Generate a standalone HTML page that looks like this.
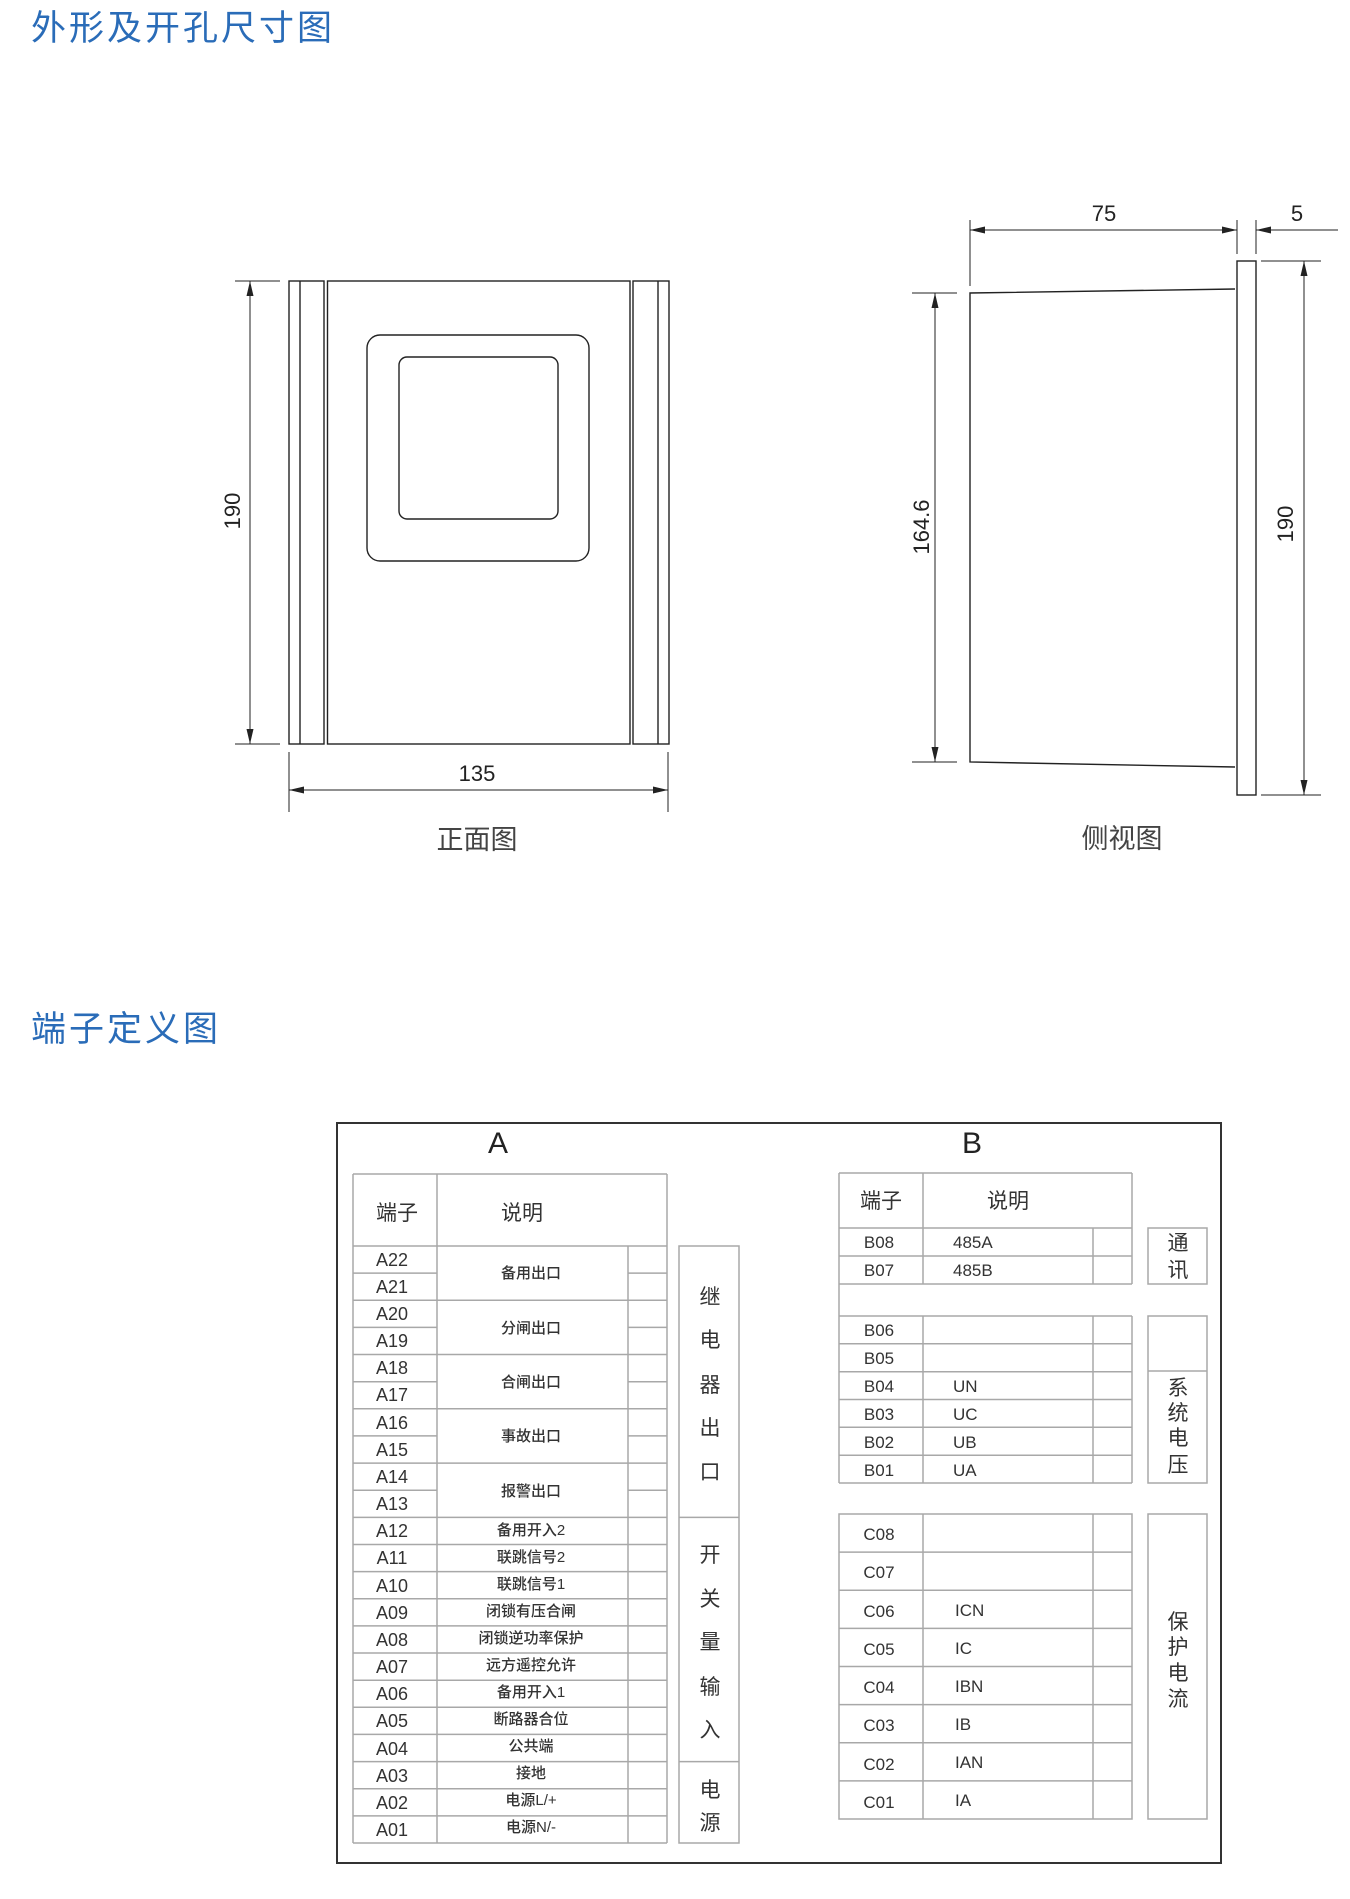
<!DOCTYPE html>
<html><head><meta charset="utf-8"><style>
html,body{margin:0;padding:0;background:#fff;}
svg{display:block;}
text{font-family:"Liberation Sans","Noto Sans CJK SC",sans-serif;}
</style></head><body>
<svg width="1350" height="1899" viewBox="0 0 1350 1899" xmlns="http://www.w3.org/2000/svg">
<text x="31" y="40" font-size="35" fill="#2a6cb8" letter-spacing="3">外形及开孔尺寸图</text>
<text x="31" y="1041" font-size="35" fill="#2a6cb8" letter-spacing="3">端子定义图</text>

<g stroke="#222" stroke-width="1.4" fill="none">
<rect x="289" y="281" width="35" height="463"/>
<line x1="300" y1="281" x2="300" y2="744"/>
<rect x="327.5" y="281" width="302.5" height="463"/>
<rect x="633" y="281" width="36" height="463"/>
<line x1="658" y1="281" x2="658" y2="744"/>
<rect x="367" y="335" width="222" height="226" rx="13"/>
<rect x="399" y="357" width="159" height="162" rx="8"/>
<line x1="235" y1="281" x2="280" y2="281" stroke-width="1"/>
<line x1="235" y1="744" x2="280" y2="744" stroke-width="1"/>
<line x1="250" y1="281" x2="250" y2="744" stroke-width="1"/>
<line x1="289" y1="752" x2="289" y2="812" stroke-width="1"/>
<line x1="668" y1="752" x2="668" y2="812" stroke-width="1"/>
<line x1="289" y1="790" x2="668" y2="790" stroke-width="1"/>
<polyline points="1235,289 970,293 970,762 1235,767"/>
<rect x="1237" y="261" width="19" height="534"/>
<line x1="970" y1="220" x2="970" y2="286" stroke-width="1"/>
<line x1="1237" y1="220" x2="1237" y2="254" stroke-width="1"/>
<line x1="1256" y1="220" x2="1256" y2="254" stroke-width="1"/>
<line x1="970" y1="230" x2="1237" y2="230" stroke-width="1"/>
<line x1="1256" y1="230" x2="1338" y2="230" stroke-width="1"/>
<line x1="912" y1="293" x2="957" y2="293" stroke-width="1"/>
<line x1="912" y1="762" x2="957" y2="762" stroke-width="1"/>
<line x1="935" y1="293" x2="935" y2="762" stroke-width="1"/>
<line x1="1261" y1="261" x2="1321" y2="261" stroke-width="1"/>
<line x1="1261" y1="795" x2="1321" y2="795" stroke-width="1"/>
<line x1="1304" y1="261" x2="1304" y2="795" stroke-width="1"/>
</g>
<g fill="#222">
<polygon points="250,281 246.5,296 253.5,296"/>
<polygon points="250,744 246.5,729 253.5,729"/>
<polygon points="289,790 304,786.5 304,793.5"/>
<polygon points="668,790 653,786.5 653,793.5"/>
<polygon points="970,230 985,226.5 985,233.5"/>
<polygon points="1237,230 1222,226.5 1222,233.5"/>
<polygon points="1256,230 1271,226.5 1271,233.5"/>
<polygon points="935,293 931.5,308 938.5,308"/>
<polygon points="935,762 931.5,747 938.5,747"/>
<polygon points="1304,261 1300.5,276 1307.5,276"/>
<polygon points="1304,795 1300.5,780 1307.5,780"/>
</g>
<g font-size="22" fill="#222" text-anchor="middle">
<text x="477" y="781">135</text>
<text transform="translate(240,511) rotate(-90)">190</text>
<text x="1104" y="221">75</text>
<text x="1297" y="221">5</text>
<text transform="translate(929,527) rotate(-90)">164.6</text>
<text transform="translate(1293,524) rotate(-90)">190</text>
</g>
<g font-size="27" fill="#444" text-anchor="middle">
<text x="477" y="849">正面图</text>
<text x="1122" y="848">侧视图</text>
</g>

<rect x="337" y="1123" width="884" height="740" fill="none" stroke="#333" stroke-width="2"/>
<g font-size="30" fill="#222" text-anchor="middle">
<text x="498" y="1153">A</text>
<text x="972" y="1153">B</text>
</g>

<g stroke="#a8a8a8" stroke-width="1.5" fill="none">
<line x1="353" y1="1174" x2="667" y2="1174"/>
<line x1="353" y1="1246" x2="667" y2="1246"/>
<line x1="353" y1="1174" x2="353" y2="1843"/>
<line x1="437" y1="1174" x2="437" y2="1843"/>
<line x1="628" y1="1246" x2="628" y2="1843"/>
<line x1="667" y1="1174" x2="667" y2="1843"/>
<line x1="353" y1="1843" x2="667" y2="1843"/>
<line x1="353" y1="1273.1" x2="437" y2="1273.1"/><line x1="628" y1="1273.1" x2="667" y2="1273.1"/>
<line x1="353" y1="1300.3" x2="667" y2="1300.3"/>
<line x1="353" y1="1327.4" x2="437" y2="1327.4"/><line x1="628" y1="1327.4" x2="667" y2="1327.4"/>
<line x1="353" y1="1354.5" x2="667" y2="1354.5"/>
<line x1="353" y1="1381.7" x2="437" y2="1381.7"/><line x1="628" y1="1381.7" x2="667" y2="1381.7"/>
<line x1="353" y1="1408.8" x2="667" y2="1408.8"/>
<line x1="353" y1="1435.9" x2="437" y2="1435.9"/><line x1="628" y1="1435.9" x2="667" y2="1435.9"/>
<line x1="353" y1="1463.1" x2="667" y2="1463.1"/>
<line x1="353" y1="1490.2" x2="437" y2="1490.2"/><line x1="628" y1="1490.2" x2="667" y2="1490.2"/>
<line x1="353" y1="1517.4" x2="667" y2="1517.4"/>
<line x1="353" y1="1544.5" x2="667" y2="1544.5"/>
<line x1="353" y1="1571.6" x2="667" y2="1571.6"/>
<line x1="353" y1="1598.8" x2="667" y2="1598.8"/>
<line x1="353" y1="1625.9" x2="667" y2="1625.9"/>
<line x1="353" y1="1653.0" x2="667" y2="1653.0"/>
<line x1="353" y1="1680.2" x2="667" y2="1680.2"/>
<line x1="353" y1="1707.3" x2="667" y2="1707.3"/>
<line x1="353" y1="1734.4" x2="667" y2="1734.4"/>
<line x1="353" y1="1761.6" x2="667" y2="1761.6"/>
<line x1="353" y1="1788.7" x2="667" y2="1788.7"/>
<line x1="353" y1="1815.9" x2="667" y2="1815.9"/>
<rect x="679" y="1246" width="60" height="597"/>
<line x1="679" y1="1517.4" x2="739" y2="1517.4"/>
<line x1="679" y1="1761.6" x2="739" y2="1761.6"/>

<line x1="839" y1="1173" x2="1132" y2="1173"/>
<line x1="839" y1="1228" x2="1132" y2="1228"/>
<line x1="839" y1="1256" x2="1132" y2="1256"/>
<line x1="839" y1="1284" x2="1132" y2="1284"/>
<line x1="839" y1="1173" x2="839" y2="1483"/>
<line x1="923" y1="1173" x2="923" y2="1284"/>
<line x1="1093" y1="1228" x2="1093" y2="1284"/>
<line x1="1132" y1="1173" x2="1132" y2="1284"/>
<line x1="839" y1="1316" x2="1132" y2="1316"/>
<line x1="839" y1="1343.8" x2="1132" y2="1343.8"/>
<line x1="839" y1="1371.7" x2="1132" y2="1371.7"/>
<line x1="839" y1="1399.5" x2="1132" y2="1399.5"/>
<line x1="839" y1="1427.3" x2="1132" y2="1427.3"/>
<line x1="839" y1="1455.2" x2="1132" y2="1455.2"/>
<line x1="839" y1="1483" x2="1132" y2="1483"/>
<line x1="923" y1="1316" x2="923" y2="1483"/>
<line x1="1093" y1="1316" x2="1093" y2="1483"/>
<line x1="1132" y1="1316" x2="1132" y2="1483"/>
<rect x="839" y="1514" width="293" height="305"/>
<line x1="923" y1="1514" x2="923" y2="1819"/>
<line x1="1093" y1="1514" x2="1093" y2="1819"/>
<line x1="839" y1="1552.1" x2="1132" y2="1552.1"/>
<line x1="839" y1="1590.3" x2="1132" y2="1590.3"/>
<line x1="839" y1="1628.4" x2="1132" y2="1628.4"/>
<line x1="839" y1="1666.5" x2="1132" y2="1666.5"/>
<line x1="839" y1="1704.6" x2="1132" y2="1704.6"/>
<line x1="839" y1="1742.8" x2="1132" y2="1742.8"/>
<line x1="839" y1="1780.9" x2="1132" y2="1780.9"/>
<rect x="1148" y="1228" width="59" height="56"/>
<rect x="1148" y="1316" width="59" height="167"/>
<line x1="1148" y1="1371" x2="1207" y2="1371"/>
<rect x="1148" y="1514" width="59" height="305"/>
</g>

<g fill="#333" text-anchor="middle">
<g font-size="21">
<text x="397" y="1220">端子</text>
<text x="522" y="1220">说明</text>
<text x="881" y="1208">端子</text>
<text x="1008" y="1208">说明</text>
</g>
<g font-size="18">
<text x="392" y="1266">A22</text>
<text x="392" y="1293">A21</text>
<text x="392" y="1320">A20</text>
<text x="392" y="1347">A19</text>
<text x="392" y="1374">A18</text>
<text x="392" y="1401">A17</text>
<text x="392" y="1429">A16</text>
<text x="392" y="1456">A15</text>
<text x="392" y="1483">A14</text>
<text x="392" y="1510">A13</text>
<text x="392" y="1537">A12</text>
<text x="392" y="1564">A11</text>
<text x="392" y="1592">A10</text>
<text x="392" y="1619">A09</text>
<text x="392" y="1646">A08</text>
<text x="392" y="1673">A07</text>
<text x="392" y="1700">A06</text>
<text x="392" y="1727">A05</text>
<text x="392" y="1755">A04</text>
<text x="392" y="1782">A03</text>
<text x="392" y="1809">A02</text>
<text x="392" y="1836">A01</text>
</g>
<g font-size="15" font-weight="500">
<text x="531" y="1278">备用出口</text>
<text x="531" y="1333">分闸出口</text>
<text x="531" y="1387">合闸出口</text>
<text x="531" y="1441">事故出口</text>
<text x="531" y="1496">报警出口</text>
<text x="531" y="1535">备用开入2</text>
<text x="531" y="1562">联跳信号2</text>
<text x="531" y="1589">联跳信号1</text>
<text x="531" y="1616">闭锁有压合闸</text>
<text x="531" y="1643">闭锁逆功率保护</text>
<text x="531" y="1670">远方遥控允许</text>
<text x="531" y="1697">备用开入1</text>
<text x="531" y="1724">断路器合位</text>
<text x="531" y="1751">公共端</text>
<text x="531" y="1778">接地</text>
<text x="531" y="1805">电源L/+</text>
<text x="531" y="1832">电源N/-</text>
</g>
<g font-size="21">
<text x="710" y="1304">继</text>
<text x="710" y="1347">电</text>
<text x="710" y="1392">器</text>
<text x="710" y="1435">出</text>
<text x="710" y="1479">口</text>
<text x="710" y="1562">开</text>
<text x="710" y="1606">关</text>
<text x="710" y="1649">量</text>
<text x="710" y="1694">输</text>
<text x="710" y="1737">入</text>
<text x="710" y="1797">电</text>
<text x="710" y="1830">源</text>
<text x="1178" y="1250">通</text>
<text x="1178" y="1277">讯</text>
<text x="1178" y="1395">系</text>
<text x="1178" y="1420">统</text>
<text x="1178" y="1445">电</text>
<text x="1178" y="1472">压</text>
<text x="1178" y="1629">保</text>
<text x="1178" y="1654">护</text>
<text x="1178" y="1680">电</text>
<text x="1178" y="1706">流</text>
</g>
<g font-size="17">
<text x="879" y="1248">B08</text>
<text x="879" y="1276">B07</text>
<text x="879" y="1336">B06</text>
<text x="879" y="1364">B05</text>
<text x="879" y="1392">B04</text>
<text x="879" y="1420">B03</text>
<text x="879" y="1448">B02</text>
<text x="879" y="1476">B01</text>
<text x="879" y="1540">C08</text>
<text x="879" y="1578">C07</text>
<text x="879" y="1617">C06</text>
<text x="879" y="1655">C05</text>
<text x="879" y="1693">C04</text>
<text x="879" y="1731">C03</text>
<text x="879" y="1770">C02</text>
<text x="879" y="1808">C01</text>
</g>
<g font-size="17" text-anchor="start">
<text x="953" y="1248">485A</text>
<text x="953" y="1276">485B</text>
<text x="953" y="1392">UN</text>
<text x="953" y="1420">UC</text>
<text x="953" y="1448">UB</text>
<text x="953" y="1476">UA</text>
<text x="955" y="1616">ICN</text>
<text x="955" y="1654">IC</text>
<text x="955" y="1692">IBN</text>
<text x="955" y="1730">IB</text>
<text x="955" y="1768">IAN</text>
<text x="955" y="1806">IA</text>
</g>
</g>
</svg>
</body></html>
